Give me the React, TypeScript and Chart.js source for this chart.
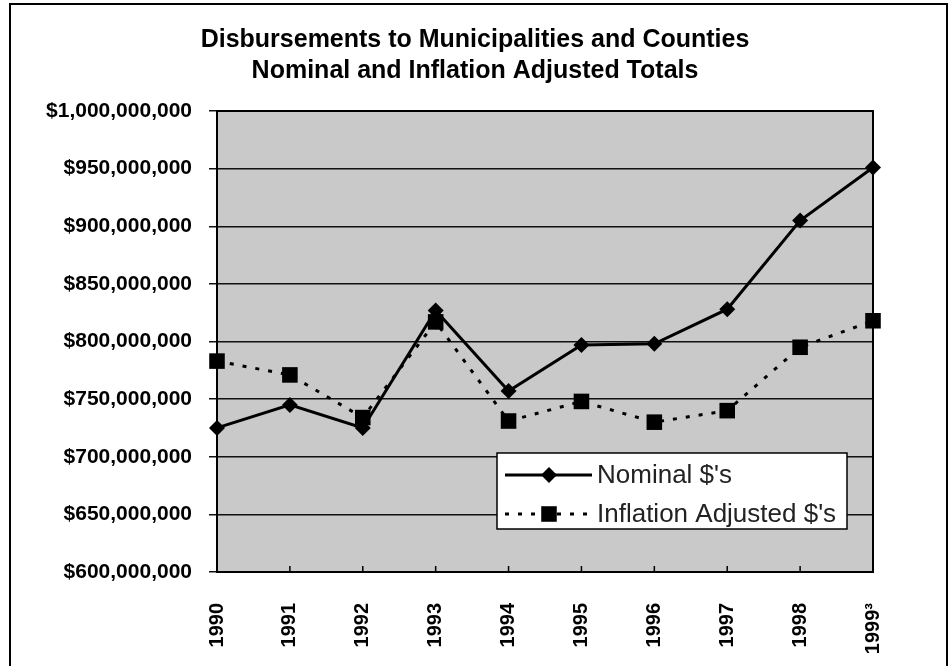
import React, { useEffect, useRef } from 'react';
import { Chart, registerables } from 'chart.js';

Chart.register(...registerables);

const years = ['1990', '1991', '1992', '1993', '1994', '1995', '1996', '1997', '1998', '1999³'];
const nominal = [725e6, 745e6, 725e6, 827e6, 757e6, 797e6, 798e6, 828e6, 905e6, 951e6];
const inflationAdjusted = [783e6, 771e6, 734e6, 817e6, 731e6, 748e6, 730e6, 740e6, 795e6, 818e6];
const seriesNames = ["Nominal $'s", "Inflation Adjusted $'s"];
const titleLines = ['Disbursements to Municipalities and Counties', 'Nominal and Inflation Adjusted Totals'];
const yMin = 600e6;
const yMax = 1000e6;
const yStep = 50e6;

const FONT = "'Liberation Sans', Arial, Helvetica, sans-serif";

function drawMarker(ctx: CanvasRenderingContext2D, style: string, x: number, y: number, r: number) {
  ctx.beginPath();
  if (style === 'rectRot') {
    ctx.moveTo(x - r, y);
    ctx.lineTo(x, y - r);
    ctx.lineTo(x + r, y);
    ctx.lineTo(x, y + r);
    ctx.closePath();
  } else {
    const s = r * Math.SQRT1_2;
    ctx.rect(x - s, y - s, 2 * s, 2 * s);
  }
  ctx.fill();
}

const decorPlugin = {
  id: 'decor',
  beforeDraw(chart: any) {
    const { ctx, chartArea } = chart;
    ctx.save();
    ctx.fillStyle = '#ffffff';
    ctx.fillRect(0, 0, chart.width, chart.height);
    ctx.fillStyle = '#c9c9c9';
    ctx.fillRect(chartArea.left, chartArea.top, chartArea.right - chartArea.left, chartArea.bottom - chartArea.top);
    ctx.restore();
  },
  beforeDatasetsDraw(chart: any) {
    const { ctx, chartArea } = chart;
    ctx.save();
    ctx.strokeStyle = '#000';
    ctx.lineWidth = 2;
    ctx.strokeRect(chartArea.left, chartArea.top, chartArea.right - chartArea.left, chartArea.bottom - chartArea.top);
    // small inward category ticks on the bottom axis
    const xs = chart.scales.x;
    ctx.lineWidth = 1.5;
    ctx.beginPath();
    for (let i = 1; i < years.length - 1; i++) {
      const px = xs.getPixelForValue(i);
      ctx.moveTo(px, chartArea.bottom);
      ctx.lineTo(px, chartArea.bottom - 6);
    }
    ctx.stroke();
    ctx.restore();
  },
  afterDraw(chart: any) {
    const { ctx, chartArea } = chart;
    ctx.save();
    // outer frame
    ctx.strokeStyle = '#000';
    ctx.lineWidth = 2;
    ctx.strokeRect(10, 4, chart.width - 13, chart.height + 20);

    // legend
    const right = chartArea.right - 26;
    const bottom = chartArea.bottom - 43;
    const w = 350;
    const h = 76;
    const left = right - w;
    const top = bottom - h;
    ctx.fillStyle = '#ffffff';
    ctx.fillRect(left, top, w, h);
    ctx.strokeStyle = '#000';
    ctx.lineWidth = 1.5;
    ctx.strokeRect(left, top, w, h);
    const rows = [top + 22, top + 61];
    chart.data.datasets.forEach((ds: any, i: number) => {
      const y = rows[i];
      ctx.save();
      ctx.strokeStyle = ds.borderColor;
      ctx.lineWidth = ds.borderWidth;
      ctx.setLineDash(ds.borderDash || []);
      ctx.beginPath();
      ctx.moveTo(left + 8, y);
      ctx.lineTo(left + 95, y);
      ctx.stroke();
      ctx.setLineDash([]);
      ctx.fillStyle = ds.pointBackgroundColor;
      drawMarker(ctx, ds.pointStyle, left + 52, y, ds.pointRadius);
      ctx.restore();
      ctx.fillStyle = '#222';
      ctx.font = `26px ${FONT}`;
      ctx.textAlign = 'left';
      ctx.textBaseline = 'middle';
      ctx.fillText(ds.label, left + 100, y + 1);
    });
    ctx.restore();
  },
};

export default function App() {
  const canvasRef = useRef<HTMLCanvasElement | null>(null);

  useEffect(() => {
    document.body.style.margin = '0';
    const canvas = canvasRef.current;
    if (!canvas) return;
    const chart = new Chart(canvas, {
      type: 'line',
      data: {
        labels: years,
        datasets: [
          {
            label: seriesNames[0],
            data: nominal,
            borderColor: '#000',
            borderWidth: 3,
            pointStyle: 'rectRot',
            pointRadius: 8,
            pointBackgroundColor: '#000',
            pointBorderColor: '#000',
            pointBorderWidth: 0,
            tension: 0,
            clip: false as any,
          },
          {
            label: seriesNames[1],
            data: inflationAdjusted,
            borderColor: '#000',
            borderWidth: 3,
            borderDash: [4, 9],
            pointStyle: 'rect',
            pointRadius: 11,
            pointBackgroundColor: '#000',
            pointBorderColor: '#000',
            pointBorderWidth: 0,
            tension: 0,
            clip: false as any,
          },
        ],
      },
      options: {
        responsive: false,
        animation: false,
        devicePixelRatio: 1,
        layout: { padding: { left: 0, right: 0, top: 0, bottom: 0 } },
        plugins: {
          legend: { display: false },
          tooltip: { enabled: false },
          title: {
            display: true,
            text: titleLines,
            color: '#000',
            font: { family: FONT, size: 25, weight: 'bold', lineHeight: 1.26 },
            padding: { top: 24, bottom: 24 },
          },
        },
        scales: {
          x: {
            type: 'category',
            offset: false,
            grid: { display: false },
            border: { display: true, color: '#000', width: 2 },
            ticks: {
              color: '#000',
              font: { family: FONT, size: 20, weight: 'bold' },
              minRotation: 90,
              maxRotation: 90,
              autoSkip: false,
              padding: 23,
            },
            afterFit(scale: any) {
              scale.height = 94;
            },
          },
          y: {
            min: yMin,
            max: yMax,
            grid: { color: '#111', lineWidth: 1.5, drawTicks: true, tickLength: 8 },
            border: { display: true, color: '#000', width: 2 },
            ticks: {
              stepSize: yStep,
              color: '#000',
              font: { family: FONT, size: 21, weight: 'bold' },
              padding: 17,
              callback: (v: any) => '$' + Number(v).toLocaleString('en-US'),
            },
            afterFit(scale: any) {
              scale.width = 217;
            },
          },
          yRight: {
            type: 'linear',
            position: 'right',
            display: true,
            grid: { display: false, drawTicks: false },
            border: { display: false },
            ticks: { display: false },
            afterFit(scale: any) {
              scale.width = 77;
            },
          },
        },
      },
      plugins: [decorPlugin],
    });
    return () => chart.destroy();
  }, []);

  return (
    <div style={{ width: 950, height: 666, position: 'relative' }}>
      <canvas ref={canvasRef} width={950} height={666} style={{ display: 'block' }} />
    </div>
  );
}
